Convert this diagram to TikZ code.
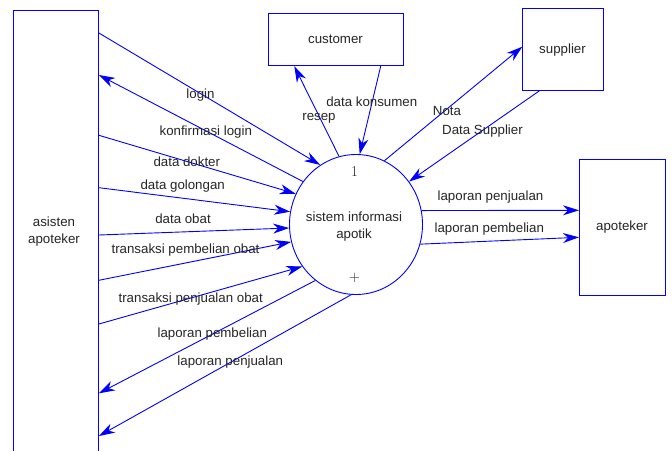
\documentclass[tikz,border=0pt]{standalone}
\usepackage{fontspec}
\setmainfont{Liberation Sans}
\newfontfamily\lmfont{Latin Modern Roman}
\usetikzlibrary{arrows.meta,shapes.geometric}
\tikzset{
  ent/.style={draw=blue, line width=0.9pt, rectangle, inner sep=0pt, text=black!85, align=center},
  flow/.style={draw=blue, line width=0.9pt, -{Stealth[length=16pt,width=10pt,inset=5pt]}},
  lbl/.style={text=black!85, inner sep=0pt, yshift=-1.5pt, font=\fontsize{13.3}{16.6}\selectfont},
}
\begin{document}
\begin{tikzpicture}[x=1pt,y=-1pt, font=\fontsize{13.3}{16.6}\selectfont]
\useasboundingbox (0,0) rectangle (672,450);
\fill[white] (0,0) rectangle (672,450);
\clip (0,0) rectangle (672,450);
% entities
\node[ent, minimum width=85pt, minimum height=470pt, anchor=north west] (as) at (13,10) {};
\node[lbl, align=center] (aslbl) at (54,230) {asisten\\apoteker};
\node[ent, minimum width=135pt, minimum height=52.6pt, anchor=north west] (cu) at (268.3,12.7) {};
\node[lbl] (culbl) at (335.5,37.5) {customer};
\node[ent, minimum width=81pt, minimum height=81.7pt, anchor=north west] (su) at (522.3,8.3) {};
\node[lbl] (sulbl) at (562.5,49) {supplier};
\node[ent, minimum width=86.3pt, minimum height=136.3pt, anchor=north west] (ap) at (579,158.7) {};
\node[lbl] (aplbl) at (622,226) {apoteker};
% process
\node[draw=blue, line width=0.9pt, ellipse, minimum width=133pt, minimum height=140pt, inner sep=0pt] (p) at (356,224.5) {};
\node[lbl] (pnum) at (354.5,170) {\lmfont\fontsize{15}{16}\selectfont 1};
\node[lbl, align=center] (ptxt) at (354,225) {sistem informasi\\apotik};
\node[lbl] (pplus) at (354.5,276) {\lmfont\fontsize{15}{16}\selectfont $+$};
% flows asisten
\draw[flow] ([yshift=-23pt]as.north east) -- (p.121.2);
\draw[flow] (p.141.2) -- ([yshift=-65pt]as.north east);
\draw[flow] ([yshift=-125.3pt]as.north east) -- (p.153.4);
\draw[flow] ([yshift=-177.7pt]as.north east) -- (p.169.5);
\draw[flow] ([yshift=-225pt]as.north east) -- (p.183);
\draw[flow] ([yshift=-270.3pt]as.north east) -- (p.195.5);
\draw[flow] ([yshift=-314pt]as.north east) -- (p.218.7);
\draw[flow] (p.234) -- ([yshift=-383.3pt]as.north east);
\draw[flow] (p.266.5) -- ([yshift=-426pt]as.north east);
% customer
\draw[flow] (p.104) -- ([xshift=26pt]cu.south west);
\draw[flow] ([xshift=112.4pt]cu.south west) -- (p.87.6);
% supplier
\draw[flow] (p.66.2) -- ([yshift=-38.4pt]su.north west);
\draw[flow] ([xshift=17pt]su.south west) -- (p.39.3);
% apoteker
\draw[flow] (p.12.3) -- ([yshift=-51.6pt]ap.north west);
\draw[flow] (p.-17.9) -- ([yshift=-78.6pt]ap.north west);
% labels
\node[lbl] (l1) at (200.5,94) {login};
\node[lbl] (l2) at (205.8,130.5) {konfirmasi login};
\node[lbl] (l3) at (186.8,160.5) {data dokter};
\node[lbl] (l4) at (182.7,184.5) {data golongan};
\node[lbl] (l5) at (183,217) {data obat};
\node[lbl] (l6) at (185.5,249) {transaksi pembelian obat};
\node[lbl] (l7) at (190.7,297.5) {transaksi penjualan obat};
\node[lbl] (l8) at (212.3,332.5) {laporan pembelian};
\node[lbl] (l9) at (230.3,360.5) {laporan penjualan};
\node[lbl] (l10) at (319,116.5) {resep};
\node[lbl] (l11) at (371.8,100) {data konsumen};
\node[lbl] (l12) at (447,109.5) {Nota};
\node[lbl] (l13) at (482.5,129.5) {Data Supplier};
\node[lbl] (l14) at (490.5,195.5) {laporan penjualan};
\node[lbl] (l15) at (489.3,227.5) {laporan pembelian};
\end{tikzpicture}
\end{document}
